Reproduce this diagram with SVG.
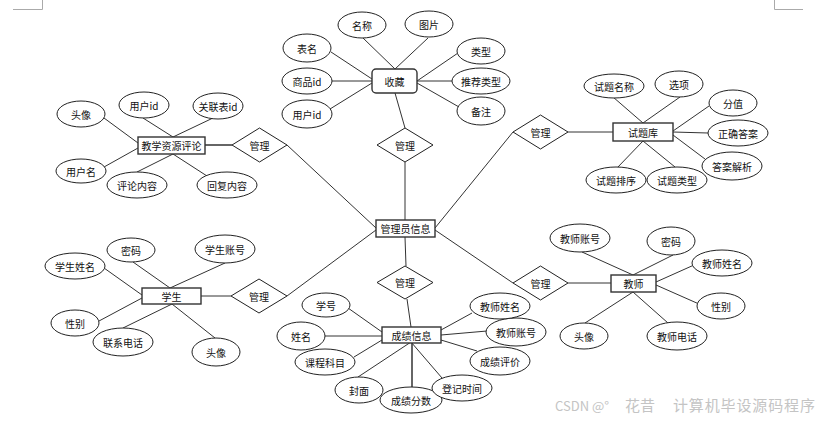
<svg xmlns="http://www.w3.org/2000/svg" width="822" height="421" viewBox="0 0 822 421">
<style>
.bg{fill:#fff}
.ln{stroke:#333;stroke-width:1;fill:none}
.el{fill:#fff;stroke:#222;stroke-width:1}
.bx{fill:#fff;stroke:#333;stroke-width:1.4}
.dm{fill:#fff;stroke:#222;stroke-width:1}
.t{font-family:"Noto Sans CJK SC","Noto Sans",sans-serif;font-size:10px;fill:#111;text-anchor:middle;dominant-baseline:central}
.wm{font-family:"Noto Sans CJK SC","Noto Sans",sans-serif;font-size:15px;fill:#c4c4c4}
.crn{stroke:#aaa;stroke-width:1;fill:none}
</style>
<rect class="bg" x="0" y="0" width="822" height="421"/>
<path class="crn" d="M13 9.5H42.5V0M774.5 0V9.5H803"/>
<g id="connectors">
<line class="ln" x1="363" y1="38" x2="395" y2="69"/>
<line class="ln" x1="428" y1="38" x2="395" y2="69"/>
<line class="ln" x1="331" y1="52" x2="372" y2="79"/>
<line class="ln" x1="332" y1="81" x2="372" y2="81"/>
<line class="ln" x1="330" y1="109" x2="372" y2="83"/>
<line class="ln" x1="458" y1="53" x2="417" y2="81"/>
<line class="ln" x1="452" y1="81" x2="417" y2="81"/>
<line class="ln" x1="459" y1="107" x2="417" y2="83"/>
<line class="ln" x1="395" y1="93" x2="405" y2="128"/>
<line class="ln" x1="405" y1="162" x2="405" y2="220"/>
<line class="ln" x1="287" y1="145" x2="376" y2="228"/>
<line class="ln" x1="513" y1="132" x2="435" y2="228"/>
<line class="ln" x1="287" y1="296" x2="376" y2="230"/>
<line class="ln" x1="513" y1="283" x2="435" y2="230"/>
<line class="ln" x1="405" y1="237" x2="406" y2="266"/>
<line class="ln" x1="407" y1="299" x2="411" y2="327"/>
<line class="ln" x1="104" y1="118" x2="138" y2="143"/>
<line class="ln" x1="143" y1="118" x2="173" y2="137"/>
<line class="ln" x1="213" y1="118" x2="173" y2="137"/>
<line class="ln" x1="104" y1="167" x2="138" y2="148"/>
<line class="ln" x1="137" y1="172" x2="173" y2="154"/>
<line class="ln" x1="207" y1="176" x2="173" y2="154"/>
<line class="ln" x1="205" y1="145" x2="232" y2="145" style="stroke-width:1.5"/>
<line class="ln" x1="613" y1="97" x2="643" y2="123"/>
<line class="ln" x1="680" y1="97" x2="643" y2="123"/>
<line class="ln" x1="709" y1="106" x2="673" y2="131"/>
<line class="ln" x1="708" y1="133" x2="673" y2="132"/>
<line class="ln" x1="705" y1="159" x2="673" y2="135"/>
<line class="ln" x1="617" y1="168" x2="643" y2="141"/>
<line class="ln" x1="675" y1="167" x2="643" y2="141"/>
<line class="ln" x1="568" y1="132" x2="613" y2="132"/>
<line class="ln" x1="133" y1="262" x2="170" y2="288"/>
<line class="ln" x1="225" y1="263" x2="170" y2="288"/>
<line class="ln" x1="104" y1="268" x2="142" y2="295"/>
<line class="ln" x1="99" y1="321" x2="142" y2="298"/>
<line class="ln" x1="123" y1="328" x2="172" y2="304"/>
<line class="ln" x1="215" y1="338" x2="172" y2="304"/>
<line class="ln" x1="201" y1="296" x2="231" y2="296"/>
<line class="ln" x1="582" y1="252" x2="633" y2="275"/>
<line class="ln" x1="673" y1="255" x2="633" y2="275"/>
<line class="ln" x1="694" y1="265" x2="656" y2="282"/>
<line class="ln" x1="699" y1="304" x2="656" y2="285"/>
<line class="ln" x1="585" y1="323" x2="633" y2="292"/>
<line class="ln" x1="668" y1="323" x2="633" y2="292"/>
<line class="ln" x1="568" y1="283" x2="611" y2="283"/>
<line class="ln" x1="348" y1="308" x2="382" y2="332"/>
<line class="ln" x1="325" y1="336" x2="382" y2="336"/>
<line class="ln" x1="354" y1="357" x2="382" y2="340"/>
<line class="ln" x1="358" y1="377" x2="411" y2="342"/>
<line class="ln" x1="412" y1="387" x2="412" y2="342" style="stroke-width:1.5"/>
<line class="ln" x1="442" y1="378" x2="411" y2="342"/>
<line class="ln" x1="477" y1="351" x2="441" y2="340"/>
<line class="ln" x1="487" y1="331" x2="441" y2="335"/>
<line class="ln" x1="472" y1="313" x2="441" y2="330"/>
</g>

<g id="shoucang">
<rect class="bx" x="372" y="69" width="45" height="24" rx="4"/>
<text class="t" x="394.5" y="81">收藏</text>
</g>
<g id="shoucang-mingcheng"><ellipse class="el" cx="362" cy="25" rx="24" ry="13"/><text class="t" x="362" y="25">名称</text></g>
<g id="shoucang-tupian"><ellipse class="el" cx="429" cy="24" rx="24" ry="13"/><text class="t" x="429" y="24">图片</text></g>
<g id="shoucang-biaoming"><ellipse class="el" cx="307" cy="48" rx="24" ry="14"/><text class="t" x="307" y="48">表名</text></g>
<g id="shoucang-shangpinid"><ellipse class="el" cx="307" cy="81" rx="25" ry="13"/><text class="t" x="307" y="81">商品id</text></g>
<g id="shoucang-yonghuid"><ellipse class="el" cx="307" cy="114" rx="25" ry="14"/><text class="t" x="307" y="114">用户id</text></g>
<g id="shoucang-leixing"><ellipse class="el" cx="481" cy="51" rx="24" ry="13"/><text class="t" x="481" y="51">类型</text></g>
<g id="shoucang-tuijian"><ellipse class="el" cx="481" cy="81" rx="29" ry="13"/><text class="t" x="481" y="81">推荐类型</text></g>
<g id="shoucang-beizhu"><ellipse class="el" cx="481" cy="111" rx="24" ry="14"/><text class="t" x="481" y="111">备注</text></g>
<g id="guanli-top"><polygon class="dm" points="377,145 405,128 433,145 405,162"/><text class="t" x="405" y="145">管理</text></g>

<g id="guanliyuan">
<rect class="bx" x="376" y="220" width="59" height="17"/>
<text class="t" x="405.5" y="228.5">管理员信息</text>
</g>

<g id="pinglun">
<rect class="bx" x="138" y="137" width="67" height="17"/>
<text class="t" x="171.5" y="145.5">教学资源评论</text>
</g>
<g id="pinglun-touxiang"><ellipse class="el" cx="81" cy="114" rx="24" ry="13"/><text class="t" x="81" y="114">头像</text></g>
<g id="pinglun-yonghuid"><ellipse class="el" cx="144" cy="105" rx="25" ry="13"/><text class="t" x="144" y="105">用户id</text></g>
<g id="pinglun-guanlianbiaoid"><ellipse class="el" cx="218" cy="106" rx="25" ry="13"/><text class="t" x="218" y="106">关联表id</text></g>
<g id="pinglun-yonghuming"><ellipse class="el" cx="81" cy="171" rx="25" ry="12"/><text class="t" x="81" y="171">用户名</text></g>
<g id="pinglun-neirong"><ellipse class="el" cx="137" cy="185" rx="30" ry="13"/><text class="t" x="137" y="185">评论内容</text></g>
<g id="pinglun-huifu"><ellipse class="el" cx="227" cy="185" rx="30" ry="13"/><text class="t" x="227" y="185">回复内容</text></g>
<g id="guanli-pinglun"><polygon class="dm" points="232,145 259.5,128 287,145 259.5,162"/><text class="t" x="259.5" y="145">管理</text></g>

<g id="tiku">
<rect class="bx" x="613" y="123" width="60" height="18"/>
<text class="t" x="643" y="132">试题库</text>
</g>
<g id="tiku-mingcheng"><ellipse class="el" cx="614" cy="86" rx="30" ry="12"/><text class="t" x="614" y="86">试题名称</text></g>
<g id="tiku-xuanxiang"><ellipse class="el" cx="679" cy="84" rx="24" ry="13"/><text class="t" x="679" y="84">选项</text></g>
<g id="tiku-fenzhi"><ellipse class="el" cx="733" cy="103" rx="24" ry="13"/><text class="t" x="733" y="103">分值</text></g>
<g id="tiku-zhengque"><ellipse class="el" cx="738" cy="133" rx="30" ry="13"/><text class="t" x="738" y="133">正确答案</text></g>
<g id="tiku-jiexi"><ellipse class="el" cx="732" cy="166" rx="30" ry="14"/><text class="t" x="732" y="166">答案解析</text></g>
<g id="tiku-paixu"><ellipse class="el" cx="616" cy="180" rx="30" ry="13"/><text class="t" x="616" y="180">试题排序</text></g>
<g id="tiku-leixing"><ellipse class="el" cx="677" cy="180" rx="30" ry="13"/><text class="t" x="677" y="180">试题类型</text></g>
<g id="guanli-tiku"><polygon class="dm" points="513,132 540.5,115 568,132 540.5,149"/><text class="t" x="540.5" y="132">管理</text></g>

<g id="xuesheng">
<rect class="bx" x="142" y="288" width="59" height="16"/>
<text class="t" x="171.5" y="296">学生</text>
</g>
<g id="xuesheng-mima"><ellipse class="el" cx="131" cy="250" rx="24" ry="12"/><text class="t" x="131" y="250">密码</text></g>
<g id="xuesheng-zhanghao"><ellipse class="el" cx="225" cy="249" rx="30" ry="14"/><text class="t" x="225" y="249">学生账号</text></g>
<g id="xuesheng-xingming"><ellipse class="el" cx="75" cy="266" rx="30" ry="13"/><text class="t" x="75" y="266">学生姓名</text></g>
<g id="xuesheng-xingbie"><ellipse class="el" cx="75" cy="323" rx="24" ry="13"/><text class="t" x="75" y="323">性别</text></g>
<g id="xuesheng-dianhua"><ellipse class="el" cx="123" cy="342" rx="30" ry="14"/><text class="t" x="123" y="342">联系电话</text></g>
<g id="xuesheng-touxiang"><ellipse class="el" cx="216" cy="352" rx="24" ry="14"/><text class="t" x="216" y="352">头像</text></g>
<g id="guanli-xuesheng"><polygon class="dm" points="231,296 259,279 287,296 259,313"/><text class="t" x="259" y="296">管理</text></g>

<g id="jiaoshi">
<rect class="bx" x="611" y="275" width="45" height="17"/>
<text class="t" x="633.5" y="283.5">教师</text>
</g>
<g id="jiaoshi-zhanghao"><ellipse class="el" cx="580" cy="238" rx="30" ry="14"/><text class="t" x="580" y="238">教师账号</text></g>
<g id="jiaoshi-mima"><ellipse class="el" cx="671" cy="241" rx="24" ry="14"/><text class="t" x="671" y="241">密码</text></g>
<g id="jiaoshi-xingming"><ellipse class="el" cx="722" cy="263" rx="30" ry="13"/><text class="t" x="722" y="263">教师姓名</text></g>
<g id="jiaoshi-xingbie"><ellipse class="el" cx="721" cy="306" rx="24" ry="13"/><text class="t" x="721" y="306">性别</text></g>
<g id="jiaoshi-touxiang"><ellipse class="el" cx="584" cy="336" rx="24" ry="13"/><text class="t" x="584" y="336">头像</text></g>
<g id="jiaoshi-dianhua"><ellipse class="el" cx="677" cy="336" rx="30" ry="14"/><text class="t" x="677" y="336">教师电话</text></g>
<g id="guanli-jiaoshi"><polygon class="dm" points="513,283 540.5,266 568,283 540.5,300"/><text class="t" x="540.5" y="283">管理</text></g>

<g id="guanli-chengji"><polygon class="dm" points="377,282.5 405,266 433,282.5 405,299"/><text class="t" x="405" y="282.5">管理</text></g>
<g id="chengji">
<rect class="bx" x="382" y="327" width="59" height="16"/>
<text class="t" x="411.5" y="335">成绩信息</text>
</g>
<g id="chengji-xuehao"><ellipse class="el" cx="326" cy="305" rx="24" ry="12"/><text class="t" x="326" y="305">学号</text></g>
<g id="chengji-xingming"><ellipse class="el" cx="301" cy="336" rx="24" ry="14"/><text class="t" x="301" y="336">姓名</text></g>
<g id="chengji-kemu"><ellipse class="el" cx="325" cy="362" rx="30" ry="13"/><text class="t" x="325" y="362">课程科目</text></g>
<g id="chengji-fengmian"><ellipse class="el" cx="359" cy="390" rx="24" ry="13"/><text class="t" x="359" y="390">封面</text></g>
<g id="chengji-fenshu"><ellipse class="el" cx="411" cy="400" rx="31" ry="13"/><text class="t" x="411" y="400">成绩分数</text></g>
<g id="chengji-shijian"><ellipse class="el" cx="462" cy="388" rx="30" ry="13"/><text class="t" x="462" y="388">登记时间</text></g>
<g id="chengji-pingjia"><ellipse class="el" cx="500" cy="361" rx="30" ry="14"/><text class="t" x="500" y="361">成绩评价</text></g>
<g id="chengji-jszhanghao"><ellipse class="el" cx="516" cy="332" rx="30" ry="14"/><text class="t" x="516" y="332">教师账号</text></g>
<g id="chengji-jsxingming"><ellipse class="el" cx="500" cy="306" rx="30" ry="13"/><text class="t" x="500" y="306">教师姓名</text></g>

<text class="wm" x="555" y="411" style="font-size:13px">CSDN @°</text>
<text class="wm" x="625" y="411">花昔</text>
<text class="wm" x="673" y="411" textLength="142" lengthAdjust="spacing">计算机毕设源码程序</text>
</svg>
